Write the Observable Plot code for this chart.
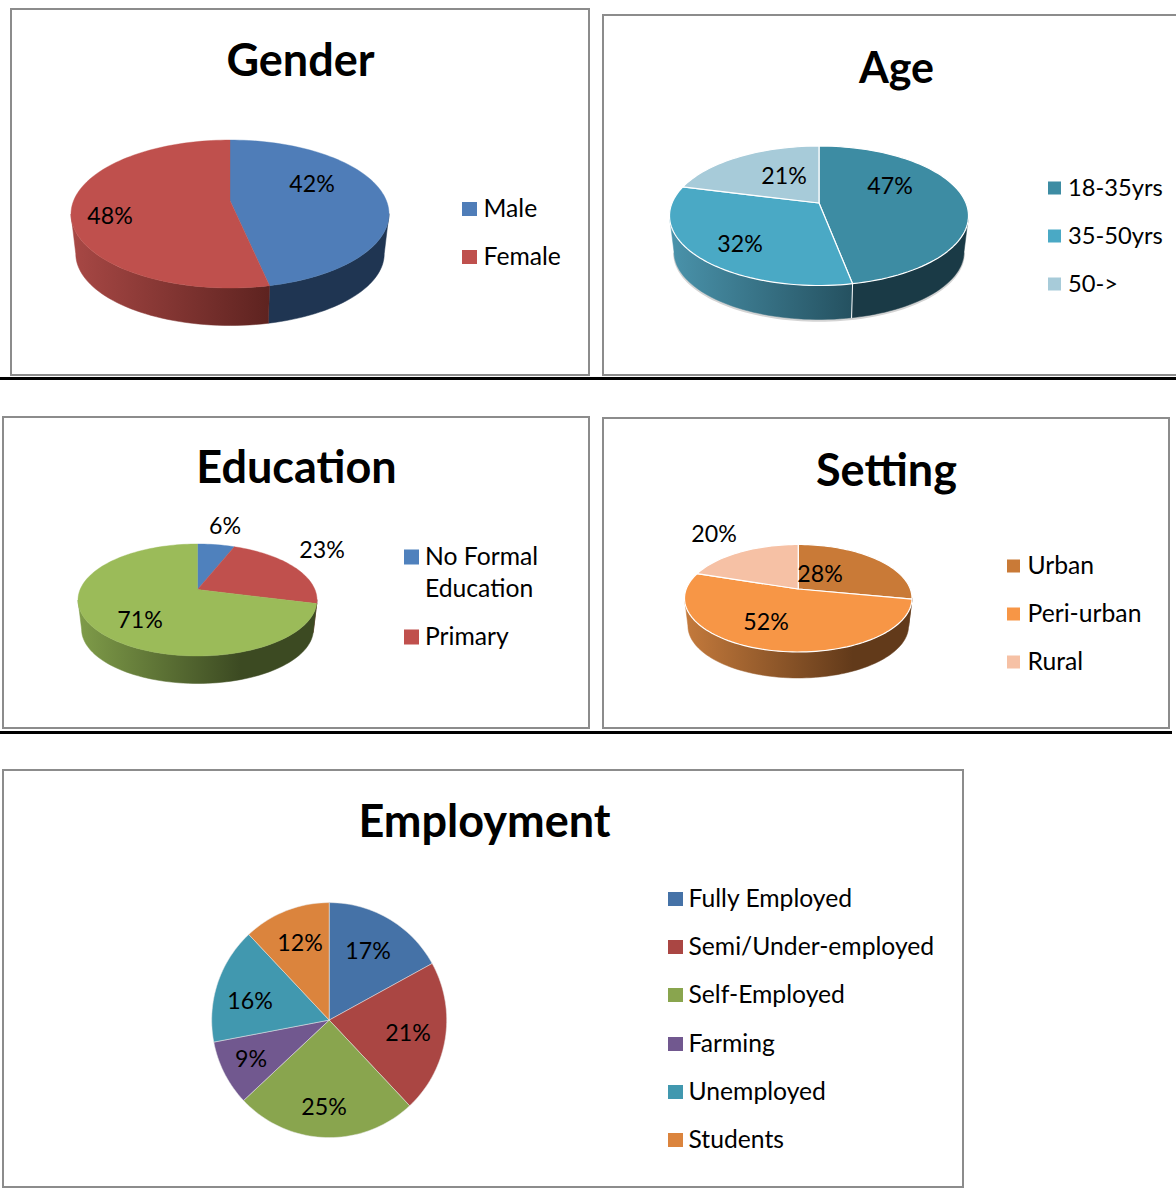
<!DOCTYPE html>
<html>
<head>
<meta charset="utf-8">
<script src="https://cdn.jsdelivr.net/npm/d3@7"></script>
<script src="https://cdn.jsdelivr.net/npm/@observablehq/plot@0.6"></script>
<style>
html,body{margin:0;padding:0;background:#fff;overflow:hidden}
svg{display:block}
</style>
</head>
<body>
<div id="chart"></div>
<script>
// ---- data ----
const genderLabels = ["Male", "Female"];
const genderValues = [42, 48];
const genderColors = ["#4f7db8", "#bf504d"];

const ageLabels = ["18-35yrs", "35-50yrs", "50->"];
const ageValues = [47, 32, 21];
const ageColors = ["#3d8ca3", "#4aa9c5", "#a7cbd9"];

const educationLabels = ["No Formal\nEducation", "Primary"];
const educationValues = [6, 23, 71];
const educationColors = ["#4f81bd", "#c0504d", "#9bbb59"];

const settingLabels = ["Urban", "Peri-urban", "Rural"];
const settingValues = [28, 52, 20];
const settingColors = ["#c97a37", "#f79646", "#f6c1a5"];

const employmentLabels = ["Fully Employed", "Semi/Under-employed", "Self-Employed", "Farming", "Unemployed", "Students"];
const employmentValues = [17, 21, 25, 9, 16, 12];
const employmentColors = ["#4572a7", "#aa4643", "#89a54e", "#71588f", "#4198af", "#db843d"];

// ---- layout (page geometry, separate from the data) ----
const W = 1176, H = 1188;
const FONT = "Lato, Carlito, Calibri, sans-serif";
const FS_TITLE = 45, FS_TEXT = 24.7, FS_PCT = 23.2;

const charts = [
  {id:"g", title:"Gender", values:genderValues, colors:genderColors, legend:genderLabels,
   panel:[11,589,9,375], titleAt:[300,61.5],
   pie:{L:70.5,R:388.5,top:139.5,front:287.5,wall:325,ay:200},
   walls:[["#1f3552","#1f3552",1],["#a84845","#5e2320",0.62]], sep:0,
   pct:[[311.5,184],[109.5,216]],
   swatch:[462,477,14], legendX:483, legendY:[209,257]},
  {id:"a", title:"Age", values:ageValues, colors:ageColors, legend:ageLabels,
   panel:[603,1182,15,375], titleAt:[896,68.5], titleFS:43,
   pie:{L:669,R:968,top:145.5,front:285,wall:319,ay:202.5},
   walls:[["#1a3a46","#1a3a46",1],["#4a93ab","#24505f",0.62],["#4a93ab","#4a93ab",1]], sep:1.2, shadow:true,
   pct:[[889.5,186],[739.5,244],[783.5,176]],
   swatch:[1048,1061,13], legendX:1067.5, legendFS:23.7, legendY:[188,236,284]},
  {id:"e", title:"Education", values:educationValues, colors:educationColors, legend:educationLabels,
   panel:[3,589,417,728], titleAt:[296,468.5],
   pie:{L:77.5,R:316.5,top:543.5,front:655.5,wall:683,ay:589},
   walls:[["#4f81bd","#4f81bd",1],["#7d3230","#7d3230",1],["#7f9c49","#3c4a22",0.68]], sep:0,
   pct:[[224.5,526],[321.5,550],[139.5,620]],
   swatch:[404,419,15], legendX:424.5, legendY:[557,637]},
  {id:"s", title:"Setting", values:settingValues, colors:settingColors, legend:settingLabels,
   panel:[603,1169,418,728], titleAt:[886,471.5],
   pie:{L:684,R:911.5,top:544,front:651.5,wall:677.5,ay:588.5},
   walls:[["#623a1a","#623a1a",1],["#c47a3c","#623a1a",0.74],["#c47a3c","#c47a3c",1]], sep:1.2,
   pct:[[819.5,574],[765.5,622],[713.5,534]],
   swatch:[1007,1020,13], legendX:1027, legendY:[566,614,662]},
  {id:"m", title:"Employment", values:employmentValues, colors:employmentColors, legend:employmentLabels,
   panel:[3,963,770,1187], titleAt:[484,822.5],
   flat:{cx:328.7,cy:1019.6,r:117.5},
   pct:[[367.5,951],[407.5,1033],[323.5,1107],[250.5,1059],[249.5,1001],[299.5,943]],
   swatch:[668,683,14], legendX:688, legendY:[899,947,995,1044,1092,1140]}
];
const LEGEND_LINE = 32;

// projection of a unit-circle point to the page, with the perspective tilt of the original
function projector(p){
  const b = p.ay - p.top, f = p.front - p.ay;
  const ry = 2 / (1/b + 1/f), k = ry / b - 1;
  const cx = (p.L + p.R) / 2, r = (p.R - p.L) / 2 * Math.sqrt(1 - k*k);
  const scale = 0.97;
  const top = t => {
    const X = Math.sin(t), Y = -Math.cos(t), w = 1 - k*Y;
    return {x: cx + r*X/w, y: p.ay + ry*Y/w};
  };
  const D = p.wall - (p.ay + f*scale);
  const bottom = t => {
    const q = top(t);
    return {x: cx + (q.x-cx)*scale, y: p.ay + (q.y-p.ay)*scale + D};
  };
  // the wall is seen only between the two widest points of the disc
  const tMin = Math.acos(-k), tMax = 2*Math.PI - tMin;
  return {top, bottom, apex:{x:cx, y:p.ay}, cx, tMin, tMax};
}
const arcTs = (a0, a1) => {
  const n = Math.max(2, Math.ceil((a1 - a0) / (Math.PI/90)));
  return d3.range(n + 1).map(i => a0 + (a1 - a0) * i / n);
};
const poly = (pts, opts) => Plot.line(pts.concat([pts[0]]), {x:"x", y:"y", curve:"linear", strokeLinejoin:"round", ...opts});

const marks = [];
const gradients = [];

for (const c of charts) {
  // panel
  marks.push(Plot.rect([c], {x1:d=>d.panel[0], x2:d=>d.panel[1], y1:d=>d.panel[2], y2:d=>d.panel[3],
    fill:"#fff", stroke:"#8c8c8c", strokeWidth:2, clip:true}));
  const arcs = d3.pie().sort(null)(c.values);
  if (c.pie) {
    const P = projector(c.pie);
    if (c.shadow) {
      const pts = arcTs(P.tMin, P.tMax).map(P.bottom).map(q => ({x:q.x, y:q.y+1.5}));
      marks.push(poly(pts, {fill:"#d4d4d4", stroke:"#d4d4d4", strokeWidth:1.5}));
    }
    arcs.forEach((a, i) => {
      const t0 = Math.max(a.startAngle, P.tMin), t1 = Math.min(a.endAngle, P.tMax);
      if (t1 <= t0) return;
      const [cl, cr, stop] = c.walls[i];
      const gid = `w-${c.id}-${i}`;
      gradients.push({gid, x1:c.pie.L, x2:c.pie.R, cl, cr, stop});
      const ts = arcTs(t0, t1);
      const pts = ts.map(P.top).concat(ts.slice().reverse().map(P.bottom));
      marks.push(poly(pts, {fill:`url(#${gid})`, stroke:`url(#${gid})`, strokeWidth:0.5}));
    });
    if (c.id === "a") {
      // light seam where slices meet on the front wall
      arcs.forEach(a => {
        const t = a.startAngle;
        if (t > P.tMin && t < P.tMax) marks.push(Plot.line([P.top(t), P.bottom(t)], {x:"x", y:"y", stroke:"#fff", strokeWidth:1}));
      });
    }
    arcs.forEach((a, i) => {
      const pts = [P.apex].concat(arcTs(a.startAngle, a.endAngle).map(P.top));
      marks.push(poly(pts, {fill:c.colors[i], stroke:c.sep ? "#fff" : c.colors[i], strokeWidth:c.sep || 0.4}));
    });
  } else {
    const {cx, cy, r} = c.flat;
    arcs.forEach((a, i) => {
      const pts = [{x:cx, y:cy}].concat(arcTs(a.startAngle, a.endAngle).map(t => ({x:cx + r*Math.sin(t), y:cy - r*Math.cos(t)})));
      marks.push(poly(pts, {fill:c.colors[i], stroke:"#e8e8e8", strokeWidth:0.5}));
    });
  }
  // percent labels
  marks.push(Plot.text(c.values.map((v, i) => ({t:v + "%", at:c.pct[i]})), {
    x:d=>d.at[0], y:d=>d.at[1], text:"t", fontFamily:FONT, fontSize:FS_PCT, fill:"#000"}));
  // title
  marks.push(Plot.text([c], {x:d=>d.titleAt[0], y:d=>d.titleAt[1], text:"title",
    fontFamily:FONT, fontWeight:700, fontSize:c.titleFS || FS_TITLE, fill:"#000"}));
  // legend
  const [sx1, sx2, sh] = c.swatch;
  const rows = c.legend.map((l, i) => ({l, y:c.legendY[i], col:c.colors[i]}));
  marks.push(Plot.rect(rows, {x1:()=>sx1, x2:()=>sx2, y1:d=>d.y - sh/2, y2:d=>d.y + sh/2, fill:"col"}));
  const lines = rows.flatMap(r => r.l.split("\n").map((s, j) => ({s, y:r.y + j*LEGEND_LINE})));
  marks.push(Plot.text(lines, {x:()=>c.legendX, y:"y", text:"s", textAnchor:"start",
    fontFamily:FONT, fontSize:c.legendFS || FS_TEXT, fill:"#000"}));
}
// black separator rules
marks.push(Plot.ruleY([378], {x1:0, x2:W, stroke:"#000", strokeWidth:3}));
marks.push(Plot.ruleY([732], {x1:0, x2:1172, stroke:"#000", strokeWidth:3}));

// gradient definitions for the side walls
marks.unshift(() => {
  const defs = d3.create("svg:defs");
  for (const g of gradients) {
    const lg = defs.append("linearGradient").attr("id", g.gid).attr("gradientUnits","userSpaceOnUse")
      .attr("x1", g.x1).attr("x2", g.x2).attr("y1", 0).attr("y2", 0);
    lg.append("stop").attr("offset", 0).attr("stop-color", g.cl);
    lg.append("stop").attr("offset", g.stop).attr("stop-color", g.cr);
    lg.append("stop").attr("offset", 1).attr("stop-color", g.cr);
  }
  return defs.node();
});

const plot = Plot.plot({
  width:W, height:H, margin:0,
  x:{domain:[0,W], range:[0,W], axis:null},
  y:{domain:[0,H], range:[0,H], axis:null},
  color:{type:"identity"},
  style:{background:"#fff", fontFamily:FONT},
  marks
});
document.getElementById("chart").append(plot);
</script>
</body>
</html>
